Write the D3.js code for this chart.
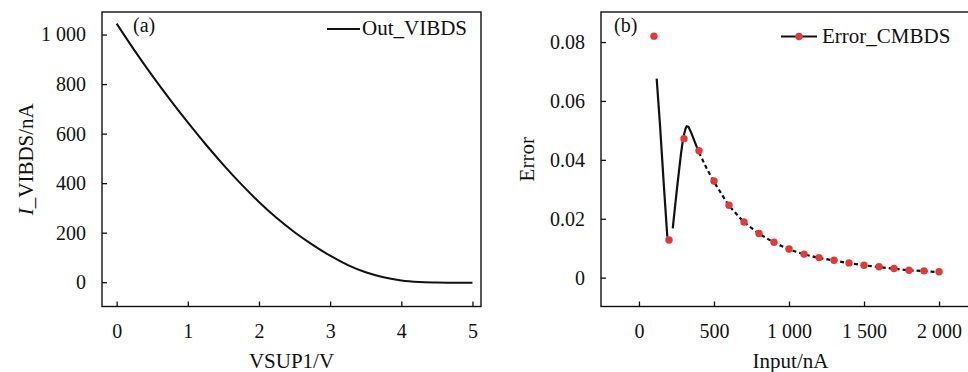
<!DOCTYPE html>
<html>
<head>
<meta charset="utf-8">
<script src="https://cdn.jsdelivr.net/npm/d3@7"></script>
<style>
  body { margin: 0; background: #fff; }
</style>
</head>
<body>
<div id="chart"></div>
<script>
// panel (a): Out_VIBDS vs VSUP1
const vsup = [0, 0.25, 0.5, 0.75, 1, 1.25, 1.5, 1.75, 2, 2.25, 2.5, 2.75, 3, 3.25, 3.5, 3.75, 4, 4.25, 4.5, 4.75, 5];
const vibds = [1044, 936, 834, 737, 645, 557, 474, 396, 324, 259, 202, 152, 107, 69, 40, 20, 7, 1, -1, -2, -2];
const xTicksA = [0, 1, 2, 3, 4, 5];
const yTicksA = [0, 200, 400, 600, 800, 1000];

// panel (b): Error_CMBDS vs input current
const inputPts = [100, 200, 300, 400, 500, 600, 700, 800, 900, 1000, 1100, 1200, 1300, 1400, 1500, 1600, 1700, 1800, 1900, 2000];
const errorPts = [0.0820, 0.0128, 0.0472, 0.0431, 0.0328, 0.0246, 0.0189, 0.0150, 0.0120, 0.0097, 0.0080, 0.0068, 0.0059, 0.0050, 0.0042, 0.0037, 0.0031, 0.0025, 0.0023, 0.0020];
// simulated curve (NaN = break in the line)
const inputLine = [118, 140, 165, 189, 200, 225, 255, 280, 296, 310, 318, 330, 350, 385, 400, 450, 500, 600, 700, 800, 900, 1000, 1100, 1200, 1300, 1400, 1500, 1600, 1700, 1800, 1900, 2000];
const errorLine = [0.0676, 0.0520, 0.0320, 0.0139, NaN, 0.0167, 0.0310, 0.0420, 0.0478, 0.0505, 0.0514, 0.0512, 0.0490, 0.0444, 0.0425, 0.0372, 0.0325, 0.0244, 0.0188, 0.0149, 0.0119, 0.0096, 0.0079, 0.0067, 0.0058, 0.0049, 0.0042, 0.0036, 0.0030, 0.0025, 0.0022, 0.0019];
const xTicksB = [0, 500, 1000, 1500, 2000];
const yTicksB = [0, 0.02, 0.04, 0.06, 0.08];

const width = 968, height = 372;
const red = "#e23a3a";
const ink = "#111";
const serif = "'Liberation Serif', 'Times New Roman', Times, serif";
const locale = d3.formatLocale({ decimal: ".", thousands: " ", grouping: [3], currency: ["", ""] });
const fmtThousands = locale.format(",");

const svg = d3.select("#chart").append("svg")
  .attr("width", width)
  .attr("height", height)
  .attr("font-family", serif);

function panel(box, xScale, yScale, xTicks, yTicks, xFmt, yFmt) {
  const g = svg.append("g");
  g.append("rect")
    .attr("x", box.left).attr("y", box.top)
    .attr("width", box.right - box.left).attr("height", box.bottom - box.top)
    .attr("fill", "none").attr("stroke", ink).attr("stroke-width", 1.4);

  const xAxis = g.append("g")
    .attr("transform", `translate(0,${box.bottom})`)
    .call(d3.axisBottom(xScale).tickValues(xTicks).tickFormat(xFmt)
      .tickSizeInner(-5).tickSizeOuter(0).tickPadding(17));
  const yAxis = g.append("g")
    .attr("transform", `translate(${box.left},0)`)
    .call(d3.axisLeft(yScale).tickValues(yTicks).tickFormat(yFmt)
      .tickSizeInner(-5).tickSizeOuter(0).tickPadding(16));
  [xAxis, yAxis].forEach(a => {
    a.attr("font-family", serif).attr("font-size", 20);
    a.select(".domain").remove();
    a.selectAll(".tick line").attr("stroke", ink).attr("stroke-width", 1.3);
    a.selectAll("text").attr("font-family", serif).attr("fill", ink);
  });
  return g;
}

function label(g, x, y, size, txt) {
  return g.append("text").attr("x", x).attr("y", y)
    .attr("font-family", serif).attr("font-size", size).attr("fill", ink).text(txt);
}

/** PANEL A */
const boxA = { left: 102, right: 481, top: 12, bottom: 306.5 };
const xA = d3.scaleLinear().domain([-0.206, 5.12]).range([boxA.left, boxA.right]);
const yA = d3.scaleLinear().domain([-98, 1091]).range([boxA.bottom, boxA.top]);
const gA = panel(boxA, xA, yA, xTicksA, yTicksA, d3.format("d"), fmtThousands);

gA.append("path")
  .datum(vsup.map((v, i) => [v, vibds[i]]))
  .attr("fill", "none").attr("stroke", ink).attr("stroke-width", 2)
  .attr("d", d3.line().x(d => xA(d[0])).y(d => yA(d[1])).curve(d3.curveMonotoneX));

label(gA, 133, 32, 20, "(a)");
gA.append("line").attr("x1", 327).attr("x2", 360).attr("y1", 29).attr("y2", 29)
  .attr("stroke", ink).attr("stroke-width", 2.2);
label(gA, 362, 35, 21, "Out_VIBDS");

label(gA, (boxA.left + boxA.right) / 2, 368, 21, "VSUP1/V").attr("text-anchor", "middle");
const ylabA = gA.append("text")
  .attr("text-anchor", "middle").attr("font-size", 21)
  .attr("font-family", serif).attr("fill", ink)
  .attr("transform", `translate(33,${(boxA.top + boxA.bottom) / 2}) rotate(-90)`);
ylabA.append("tspan").attr("font-style", "italic").text("I");
ylabA.append("tspan").text("_VIBDS/nA");

/** PANEL B */
const boxB = { left: 601, right: 980, top: 12, bottom: 306.5 };
const xB = d3.scaleLinear().domain([-253, 2273]).range([boxB.left, boxB.right]);
const yB = d3.scaleLinear().domain([-0.0098, 0.0902]).range([boxB.bottom, boxB.top]);
const gB = panel(boxB, xB, yB, xTicksB, yTicksB, fmtThousands, d => d === 0 ? "0" : d3.format(".2f")(d));

const lineData = inputLine.map((x, i) => [x, errorLine[i]]);
const lineGen = d3.line().defined(d => !isNaN(d[1])).x(d => xB(d[0])).y(d => yB(d[1]));
// solid through the steep section, dashed along the tail
gB.append("path")
  .datum(lineData.filter(d => d[0] <= 400))
  .attr("fill", "none").attr("stroke", ink).attr("stroke-width", 2.2)
  .attr("d", lineGen);
gB.append("path")
  .datum(lineData.filter(d => d[0] >= 400))
  .attr("fill", "none").attr("stroke", ink).attr("stroke-width", 2.2)
  .attr("stroke-dasharray", "4,3")
  .attr("d", lineGen);

gB.selectAll("circle.pt")
  .data(inputPts.map((x, i) => [x, errorPts[i]]))
  .join("circle")
  .attr("class", "pt")
  .attr("cx", d => xB(d[0])).attr("cy", d => yB(d[1]))
  .attr("r", 3.7).attr("fill", red);

label(gB, 614, 32, 20, "(b)");
gB.append("line").attr("x1", 781).attr("x2", 817).attr("y1", 36.5).attr("y2", 36.5)
  .attr("stroke", ink).attr("stroke-width", 2.2);
gB.append("circle").attr("cx", 799).attr("cy", 36.5).attr("r", 3.7).attr("fill", red);
label(gB, 822, 43, 21, "Error_CMBDS");

label(gB, (boxB.left + boxB.right) / 2, 368, 21, "Input/nA").attr("text-anchor", "middle");
label(gB, 0, 0, 21, "Error")
  .attr("text-anchor", "middle")
  .attr("transform", `translate(534,${(boxB.top + boxB.bottom) / 2}) rotate(-90)`);
</script>
</body>
</html>
